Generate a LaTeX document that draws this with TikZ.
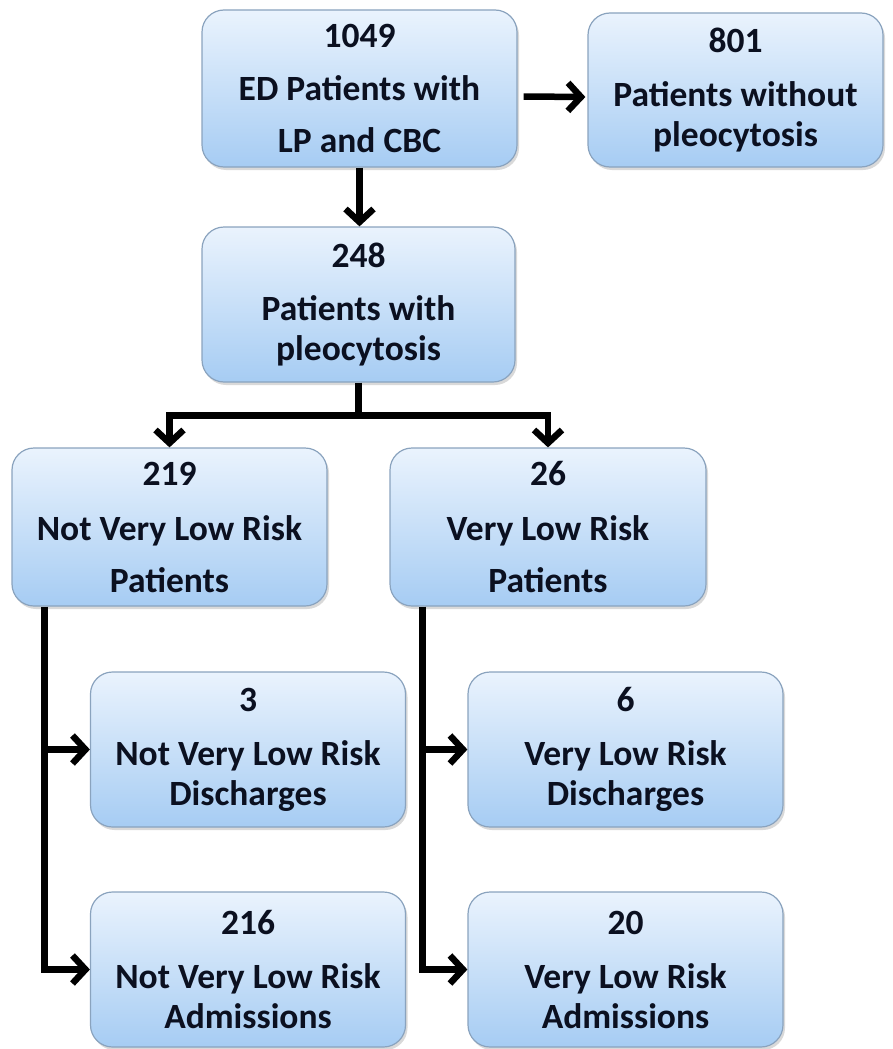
\documentclass[tikz,border=0pt]{standalone}
\usepackage{fontspec}
\setmainfont{Carlito}
\usetikzlibrary{arrows.meta,shadows,calc}
\definecolor{boxtop}{HTML}{EAF3FD}
\definecolor{boxbot}{HTML}{A6CCF3}
\definecolor{boxborder}{HTML}{8AA3BE}
\definecolor{textc}{HTML}{0B1020}
\begin{document}
\begin{tikzpicture}[x=1pt,y=-1pt,
  box/.style={draw=boxborder, line width=1.2pt, rounded corners=22pt,
    top color=boxtop, bottom color=boxbot,
    minimum width=315pt, minimum height=155pt, align=center,
    font=\fontsize{35.5}{40}\selectfont\bfseries, text=textc, inner sep=0pt,
    drop shadow={shadow xshift=2pt, shadow yshift=-3pt, opacity=0.25, fill=black!60}},
  conn/.style={line width=6.5pt, black},
  arr/.style={conn, -{Straight Barb[length=13pt,width=28pt]}}]
\useasboundingbox (0,0) rectangle (893,1049);

\node[box, minimum height=157pt] (n1049) at (359.5,88.5) {1049\\[13pt]ED Patients with\\[12pt]LP and CBC};
\node[box, minimum width=295pt, minimum height=154pt] (n801) at (735.5,90) {801\\[14pt]Patients without\\pleocytosis};
\node[box, minimum width=313pt] (n248) at (358.5,304.5) {248\\[13pt]Patients with\\pleocytosis};
\node[box, minimum height=158pt] (n219) at (169.5,527) {219\\[15pt]Not Very Low Risk\\[12pt]Patients};
\node[box, minimum width=316pt, minimum height=158pt] (n26) at (548,527) {26\\[15pt]Very Low Risk\\[12pt]Patients};
\node[box] (n3) at (248,749.5) {3\\[14pt]Not Very Low Risk\\Discharges};
\node[box] (n6) at (625.5,749.5) {6\\[14pt]Very Low Risk\\Discharges};
\node[box] (n216) at (248,969.5) {216\\[14pt]Not Very Low Risk\\Admissions};
\node[box] (n20) at (625.5,969.5) {20\\[14pt]Very Low Risk\\Admissions};

\draw[arr] ([shift={(6,8)}]n1049.east) -- ([shift={(-2,7)}]n801.west);
\draw[arr] (n1049.south) -- (n1049.south |- n248.north);
\coordinate (bar) at ($(n248.south)+(0,33)$);
\draw[conn] (n248.south) -- (bar);
\draw[arr] (bar) -| (n219.north);
\draw[arr] (bar) -| (n26.north);

\coordinate (lv) at ([xshift=33pt]n219.south west);
\draw[arr] (lv) |- (n216.west);
\draw[arr] (lv |- n3.west) -- (n3.west);
\coordinate (rv) at ([xshift=33pt]n26.south west);
\draw[arr] (rv) |- (n20.west);
\draw[arr] (rv |- n6.west) -- (n6.west);
\end{tikzpicture}
\end{document}
